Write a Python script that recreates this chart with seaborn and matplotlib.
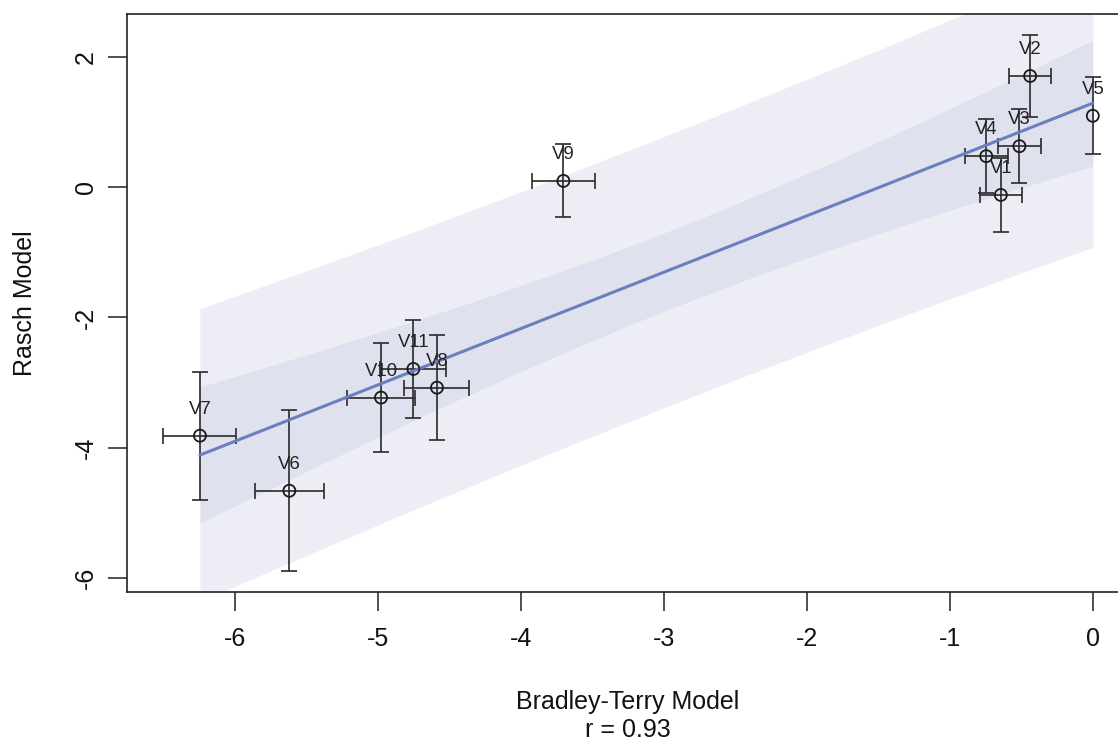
import numpy as np
import pandas as pd
import matplotlib
matplotlib.use("Agg")
import matplotlib.pyplot as plt
import seaborn as sns

# ---- data ----
items = ["V1", "V2", "V3", "V4", "V5", "V6", "V7", "V8", "V9", "V10", "V11"]
bt = [-0.643, -0.438, -0.513, -0.745, 0.0, -5.617, -6.242, -4.585, -3.701, -4.976, -4.750]
bt_err = [0.148, 0.148, 0.148, 0.150, 0.0, 0.240, 0.255, 0.227, 0.220, 0.235, 0.230]
rasch = [-0.118, 1.708, 0.630, 0.477, 1.097, -4.660, -3.815, -3.077, 0.097, -3.230, -2.790]
rasch_err = [0.57, 0.63, 0.57, 0.57, 0.59, 1.24, 0.98, 0.805, 0.56, 0.84, 0.75]
x_ticks = [-6, -5, -4, -3, -2, -1, 0]
y_ticks = [-6, -4, -2, 0, 2]
x_label = "Bradley-Terry Model"
r_label = "r = 0.93"
y_label = "Rasch Model"

df = pd.DataFrame({"item": items, "bt": bt, "bt_err": bt_err,
                   "rasch": rasch, "rasch_err": rasch_err})

# ---- OLS fit with 95% confidence and prediction bands ----
x = df["bt"].to_numpy()
y = df["rasch"].to_numpy()
n = len(x)
slope, intercept = np.polyfit(x, y, 1)
resid = y - (intercept + slope * x)
s = np.sqrt(np.sum(resid ** 2) / (n - 2))
sxx = np.sum((x - x.mean()) ** 2)
t975 = 2.2622  # t quantile, 9 df
xs = np.linspace(x.min(), x.max(), 200)
pred = intercept + slope * xs
se_fit = s * np.sqrt(1.0 / n + (xs - x.mean()) ** 2 / sxx)
se_pred = s * np.sqrt(1.0 + 1.0 / n + (xs - x.mean()) ** 2 / sxx)
fit_df = pd.DataFrame({"x": xs, "pred": pred})

# ---- styling ----
sns.set_theme(style="white")
plt.rcParams["font.family"] = ["Liberation Sans", "DejaVu Sans"]
plt.rcParams["axes.unicode_minus"] = False

W, H = 1118, 740
fig = plt.figure(figsize=(W / 100, H / 100), dpi=100)
ax_left, ax_right, ax_top, ax_bot = 127, 1130, 14, 592
ax = fig.add_axes([ax_left / W, 1 - ax_bot / H, (ax_right - ax_left) / W, (ax_bot - ax_top) / H])
ax.set_facecolor("white")

ax.fill_between(xs, pred - t975 * se_pred, pred + t975 * se_pred,
                color="#EDEEF5", lw=0, zorder=1)
ax.fill_between(xs, pred - t975 * se_fit, pred + t975 * se_fit,
                color="#DFE1EF", lw=0, zorder=2)

ax.errorbar(df["bt"], df["rasch"], yerr=df["rasch_err"], fmt="none",
            ecolor="#2a2a2a", elinewidth=1.2, capsize=6, capthick=1.2, zorder=4)
hx = df[df["bt_err"] > 0]
ax.errorbar(hx["bt"], hx["rasch"], xerr=hx["bt_err"], fmt="none",
            ecolor="#2a2a2a", elinewidth=1.2, capsize=6, capthick=1.2, zorder=4)

sns.lineplot(data=fit_df, x="x", y="pred", ax=ax, color="#6A7FBF", lw=2.2, zorder=5)

sns.scatterplot(data=df, x="bt", y="rasch", ax=ax, marker="o", s=75,
                facecolor="none", edgecolor="#1a1a1a", linewidth=1.3, zorder=6)

for _, row in df.iterrows():
    ax.annotate(row["item"], (row["bt"], row["rasch"]), xytext=(0, 19),
                textcoords="offset points", ha="center", va="center",
                fontsize=13.4, color="#222222", zorder=7)

ax.set_xlim(-6.752, 0.26)
ax.set_ylim(-6.215, 2.66)
ax.set_xticks(x_ticks)
ax.set_yticks(y_ticks)
ax.set_xticklabels([str(v) for v in x_ticks])
ax.set_yticklabels([str(v) for v in y_ticks])
ax.tick_params(axis="both", direction="out", length=14, width=1.1, color="#222222",
               labelsize=18, labelcolor="#111111", bottom=True, left=True)
ax.tick_params(axis="x", pad=11)
ax.tick_params(axis="y", pad=7)
plt.setp(ax.get_yticklabels(), rotation=90, va="center", ha="right")
for sp in ax.spines.values():
    sp.set_color("#222222")
    sp.set_linewidth(1.2)
ax.set_xlabel("")
ax.set_ylabel("")

fig.text(628 / W, 1 - 709 / H, x_label, ha="center", va="baseline",
         fontsize=18, color="#111111")
fig.text(628 / W, 1 - 737 / H, r_label, ha="center", va="baseline",
         fontsize=18, color="#111111")
fig.text(25 / W, 1 - 303 / H, y_label, rotation=90, ha="center", va="center",
         fontsize=18, color="#111111")

fig.savefig("out.png", dpi=100)
